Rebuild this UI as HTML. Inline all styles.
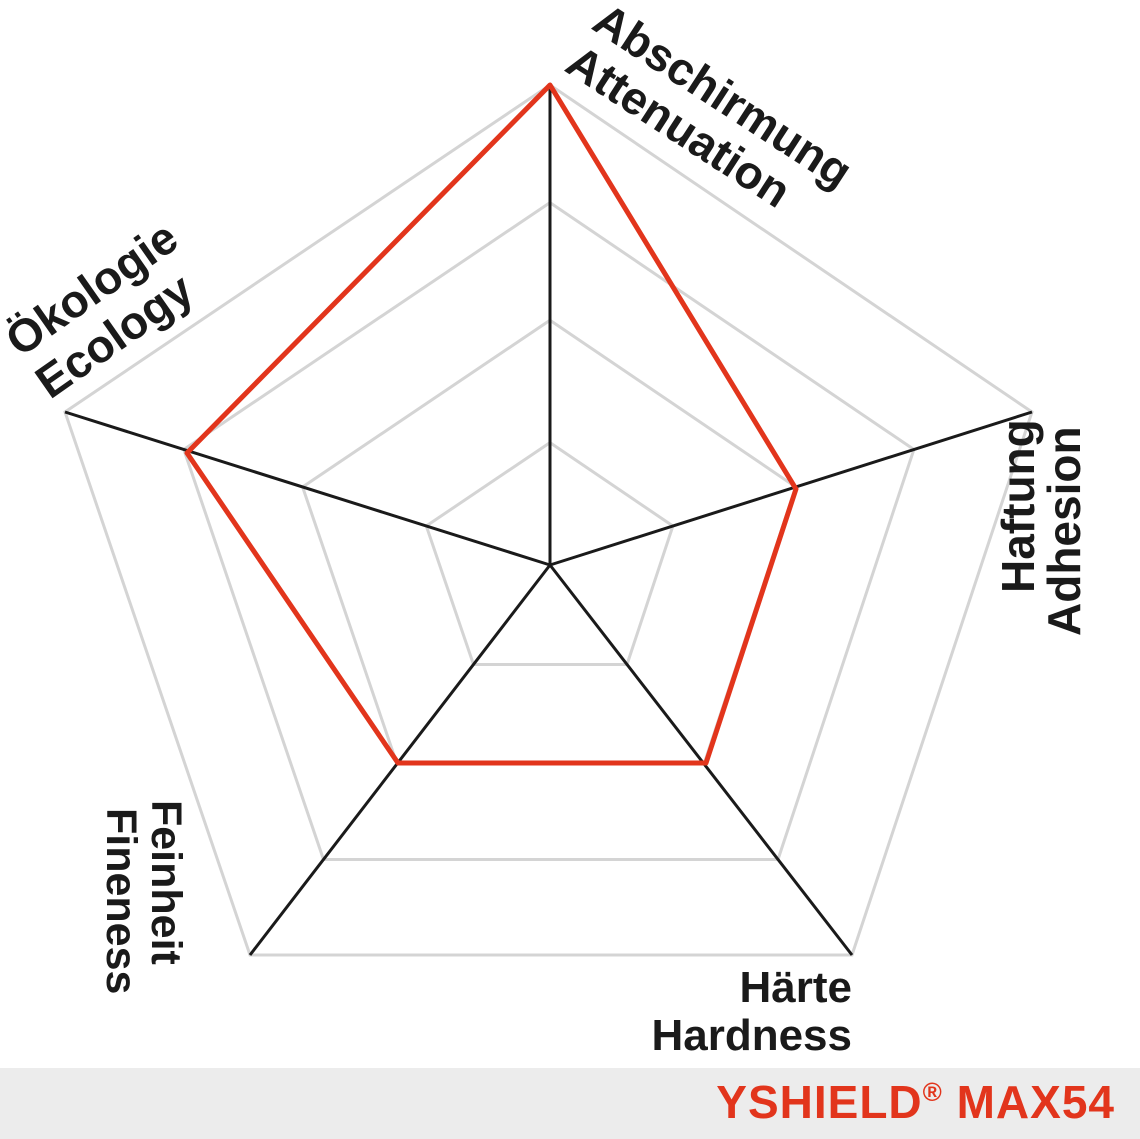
<!DOCTYPE html>
<html><head><meta charset="utf-8"><style>
html,body{margin:0;padding:0;background:#fff;}
svg{display:block;}
text{font-family:"Liberation Sans","DejaVu Sans",sans-serif;font-weight:bold;fill:#1a1a1a;}
</style></head><body>
<svg width="1140" height="1139" viewBox="0 0 1140 1139" xmlns="http://www.w3.org/2000/svg">
<rect width="1140" height="1139" fill="#fff"/>
<g fill="none" stroke="#d4d4d4" stroke-width="3">
<polygon points="550,85 1032,412 852,955 250,955 65,412"/>
<polygon points="550,202.6 913.9,449.5 778,859.5 323.5,859.5 183.8,449.5"/>
<polygon points="550,320.2 795.8,487 704,763.9 397,763.9 302.6,487"/>
<polygon points="550,442.6 672.9,526 627,664.5 473.5,664.5 426.3,526"/>
</g>
<g stroke="#1a1a1a" stroke-width="3">
<line x1="550" y1="565" x2="550" y2="85"/>
<line x1="550" y1="565" x2="1032" y2="412"/>
<line x1="550" y1="565" x2="852" y2="955"/>
<line x1="550" y1="565" x2="250" y2="955"/>
<line x1="550" y1="565" x2="65" y2="412"/>
</g>
<polygon points="550,85 796,489 706,763 398,763 187,453" fill="none" stroke="#e2351c" stroke-width="5" stroke-linejoin="round"/>
<g font-size="45">
<text transform="translate(590,28) rotate(33)" font-size="46">Abschirmung</text>
<text transform="translate(563,70) rotate(33)" font-size="46">Attenuation</text>
<text transform="translate(20,358) rotate(-35)" font-size="46">Ökologie</text>
<text transform="translate(50,400) rotate(-35)" font-size="46">Ecology</text>
<text transform="translate(1034,593) rotate(-90)" font-size="46">Haftung</text>
<text transform="translate(1080,636) rotate(-90)" font-size="46">Adhesion</text>
<text transform="translate(152,800) rotate(90)" font-size="43">Feinheit</text>
<text transform="translate(107,808) rotate(90)" font-size="43">Fineness</text>
<text x="852" y="1002" text-anchor="end" font-size="44">Härte</text>
<text x="852" y="1050" text-anchor="end" font-size="44">Hardness</text>
</g>
<rect x="0" y="1068" width="1140" height="71" fill="#ececec"/>
<text x="1115" y="1118" text-anchor="end" font-size="46" letter-spacing="1" style="fill:#e2351c">YSHIELD<tspan font-size="26" dy="-17">®</tspan><tspan dy="17"> MAX54</tspan></text>
</svg>
</body></html>
